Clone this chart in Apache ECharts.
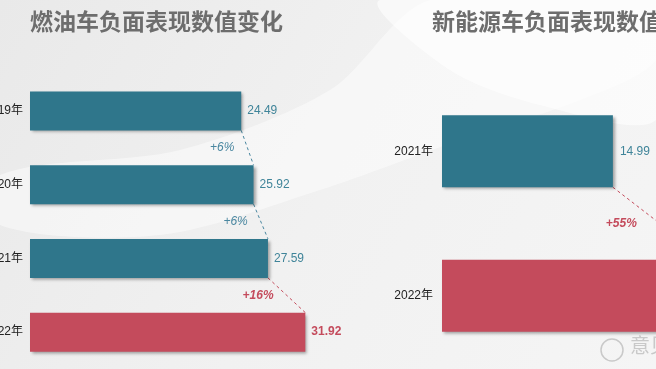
<!DOCTYPE html>
<html>
<head>
<meta charset="utf-8">
<script src="https://cdn.jsdelivr.net/npm/echarts@6/dist/echarts.min.js"></script>
<style>
  html, body { margin: 0; padding: 0; }
  #chart { width: 656px; height: 369px; }
</style>
</head>
<body>
<div id="chart"></div>
<script>
// 燃油车
const fuelYears = ["2019年", "2020年", "2021年", "2022年"]
const fuelValues = [24.49, 25.92, 27.59, 31.92]
const fuelPct = ["+6%", "+6%", "+16%"]

// 新能源车
const nevYears = ["2021年", "2022年"]
const nevValues = [14.99, 23.23]
const nevPct = ["+55%"]

const TEAL = "#2f768b"
const RED = "#c44b5c"
const CJK = "'Noto Sans CJK SC', sans-serif"
const FONT = "'Liberation Sans', Arial, 'Noto Sans CJK SC', sans-serif"

const chart = echarts.init(document.getElementById("chart"))

// 连接虚线 + 增幅标签
function connector(barW, textGap, lastIdx) {
  return function (params, api) {
    const i = api.value(0)
    const a = api.coord([api.value(1), i])
    const b = api.coord([api.value(2), i + 1])
    const x1 = a[0], y1 = a[1] + barW / 2
    const x2 = b[0], y2 = b[1] - barW / 2
    const isRed = i + 1 === lastIdx
    const color = isRed ? RED : "#4a87a0"
    const my = (y1 + y2) / 2
    const mx = (x1 + x2) / 2
    return {
      type: "group",
      children: [
        {
          type: "line",
          shape: { x1: x1, y1: y1, x2: x2, y2: y2 },
          style: { stroke: color, lineWidth: 1, lineDash: [3, 3] },
        },
        {
          type: "text",
          x: mx - textGap,
          y: my,
          style: {
            text: api.value(3),
            fill: color,
            font: (isRed ? "italic bold " : "italic ") + "12px " + FONT,
            align: "right",
            verticalAlign: "middle",
          },
        },
      ],
    }
  }
}

const barShadow = {
  shadowBlur: 3,
  shadowOffsetX: 2,
  shadowOffsetY: 2,
  shadowColor: "rgba(0,0,0,0.35)",
}

function barData(values) {
  return values.map((v, i) => ({
    value: v,
    itemStyle: Object.assign({ color: i === values.length - 1 ? RED : TEAL }, barShadow),
    label: i === values.length - 1
      ? { color: RED, fontWeight: "bold" }
      : { color: "#3f8499" },
  }))
}

chart.setOption({
  backgroundColor: {
    type: "linear", x: 0, y: 0, x2: 1, y2: 1,
    colorStops: [
      { offset: 0, color: "#e9e9e9" },
      { offset: 0.5, color: "#f1f1f1" },
      { offset: 1, color: "#f5f5f5" },
    ],
  },
  animation: false,
  graphic: [
    {
      type: "polygon",
      z: -10,
      shape: {
        points: [[0, 225], [160, 235], [320, 190], [460, 140], [580, 100], [656, 60], [656, 0], [430, 0], [330, 90], [180, 150], [0, 175]],
        smooth: 0.3,
      },
      style: { fill: "rgba(255,255,255,0.45)" },
    },
    {
      type: "polygon",
      z: -10,
      shape: {
        points: [[380, 0], [450, 70], [540, 105], [656, 120], [656, 0]],
        smooth: 0.3,
      },
      style: { fill: "rgba(255,255,255,0.6)" },
    },
    {
      type: "text",
      left: 630,
      top: 335,
      style: { text: "意见", fill: "#c9c9c9", font: "20px " + CJK },
    },
    {
      type: "circle",
      shape: { cx: 612, cy: 350, r: 11 },
      style: { fill: "none", stroke: "#c9c9c9", lineWidth: 1.5 },
    },
  ],
  title: [
    {
      text: "燃油车负面表现数值变化",
      left: 30,
      top: 10,
      padding: 0,
      textStyle: { fontSize: 23, fontWeight: "bold", color: "#6d6d6d", fontFamily: CJK },
    },
    {
      text: "新能源车负面表现数值变化",
      left: 432,
      top: 10,
      padding: 0,
      textStyle: { fontSize: 23, fontWeight: "bold", color: "#6d6d6d", fontFamily: CJK },
    },
  ],
  grid: [
    { left: 30, top: 74, width: 345, height: 295, outerBoundsMode: "none", containLabel: false },
    { left: 442, top: 79, width: 342, height: 289, outerBoundsMode: "none", containLabel: false },
  ],
  xAxis: [
    { gridIndex: 0, type: "value", min: 0, max: 40, show: false },
    { gridIndex: 1, type: "value", min: 0, max: 30, show: false },
  ],
  yAxis: [
    {
      gridIndex: 0,
      type: "category",
      data: fuelYears,
      inverse: true,
      axisLine: { show: false },
      axisTick: { show: false },
      axisLabel: { color: "#222", fontSize: 12, margin: 7, fontFamily: FONT },
    },
    {
      gridIndex: 1,
      type: "category",
      data: nevYears,
      inverse: true,
      axisLine: { show: false },
      axisTick: { show: false },
      axisLabel: { color: "#222", fontSize: 12, margin: 9, fontFamily: FONT },
    },
  ],
  series: [
    {
      type: "bar",
      xAxisIndex: 0,
      yAxisIndex: 0,
      barWidth: 39,
      data: barData(fuelValues),
      label: {
        show: true,
        position: "right",
        distance: 6,
        fontSize: 12,
        fontFamily: FONT,
        formatter: (p) => p.value.toFixed(2),
      },
    },
    {
      type: "bar",
      xAxisIndex: 1,
      yAxisIndex: 1,
      barWidth: 72,
      data: barData(nevValues),
      label: {
        show: true,
        position: "right",
        distance: 7,
        fontSize: 12,
        fontFamily: FONT,
        formatter: (p) => p.value.toFixed(2),
      },
    },
    {
      type: "custom",
      xAxisIndex: 0,
      yAxisIndex: 0,
      clip: false,
      renderItem: connector(39, 13, fuelValues.length - 1),
      encode: { x: [1, 2], y: 0 },
      data: fuelPct.map((t, i) => [i, fuelValues[i], fuelValues[i + 1], t]),
    },
    {
      type: "custom",
      xAxisIndex: 1,
      yAxisIndex: 1,
      clip: false,
      renderItem: connector(72, 23, nevValues.length - 1),
      encode: { x: [1, 2], y: 0 },
      data: nevPct.map((t, i) => [i, nevValues[i], nevValues[i + 1], t]),
    },
  ],
})
</script>
</body>
</html>
